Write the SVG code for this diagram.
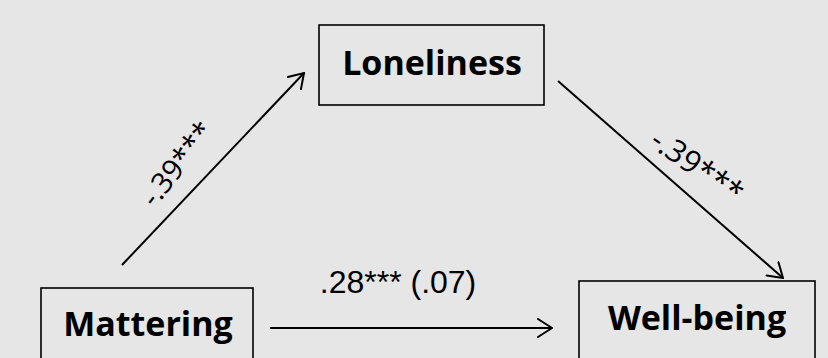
<svg xmlns="http://www.w3.org/2000/svg" width="828" height="358" viewBox="0 0 828 358">
  <defs>
    <style>
      .box { fill: none; stroke: #000; stroke-width: 1.6; }
      .name { font-family: "Open Sans", "Liberation Sans", sans-serif; font-weight: bold; font-size: 34px; fill: #000; text-anchor: middle; }
      .coef { font-family: "Liberation Sans", Arial, sans-serif; font-size: 32px; fill: #000; text-anchor: middle; }
      .slope { font-family: "Open Sans", "Liberation Sans", sans-serif; fill: #000; text-anchor: middle; }
      .path { stroke: #000; stroke-width: 2; fill: none; }
      .head { stroke: #000; stroke-width: 2; fill: none; stroke-linecap: round; stroke-linejoin: miter; }
    </style>
    <marker id="open-arrow" viewBox="0 0 16 20" refX="15" refY="10" markerWidth="16" markerHeight="20" markerUnits="userSpaceOnUse" orient="auto">
      <path class="head" d="M1,1 L15,10 L1,19"/>
    </marker>
  </defs>

  <rect width="828" height="358" fill="#e6e6e6"/>

  <g id="connectors">
    <line class="path" x1="122" y1="265" x2="304" y2="73" marker-end="url(#open-arrow)"/>
    <line class="path" x1="558" y1="81" x2="783" y2="278" marker-end="url(#open-arrow)"/>
    <line class="path" x1="270" y1="328" x2="552" y2="328" marker-end="url(#open-arrow)"/>
    <text class="slope" font-size="29" transform="translate(185,170) rotate(-52)">-.39***</text>
    <text class="slope" font-size="31" transform="translate(691,175) rotate(35)">-.39***</text>
    <text class="coef" x="398" y="293">.28*** (.07)</text>
  </g>

  <g id="loneliness">
    <rect class="box" x="319" y="25" width="225" height="80"/>
    <text class="name" x="432" y="75">Loneliness</text>
  </g>

  <g id="mattering">
    <rect class="box" x="41" y="288" width="212" height="90"/>
    <text class="name" x="148" y="336">Mattering</text>
  </g>

  <g id="well-being">
    <rect class="box" x="579" y="281" width="236" height="90"/>
    <text class="name" x="697" y="330">Well-being</text>
  </g>
</svg>
